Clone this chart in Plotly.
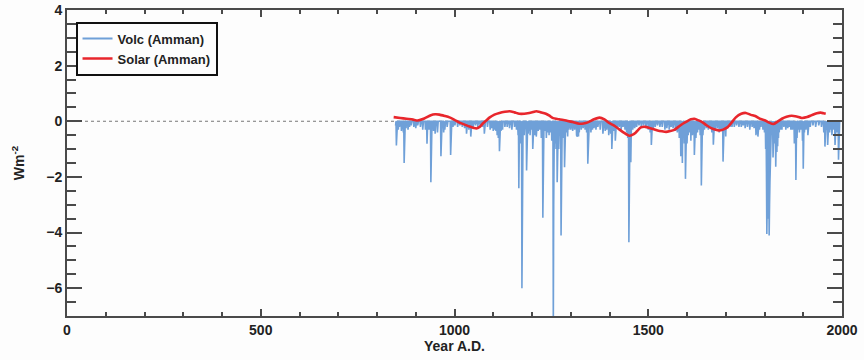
import plotly.graph_objects as go

# Volcanic forcing (Amman): years with a non-zero value, background is zero
volc_years = [
    848, 850, 851, 855, 858, 863, 868, 870, 871, 875, 880, 884, 888, 895, 900, 905,
    912, 918, 925, 929, 930, 934, 939, 940, 941, 946, 950, 951, 956, 965, 966, 972,
    975, 981, 990, 991, 996, 1001, 1008, 1014, 1020, 1026, 1031, 1032, 1037, 1042,
    1043, 1048, 1054, 1060, 1066, 1072, 1077, 1078, 1085, 1092, 1096, 1100, 1103,
    1107, 1110, 1113, 1116, 1117, 1120, 1124, 1130, 1136, 1142, 1148, 1155, 1160,
    1164, 1166, 1167, 1171, 1174, 1175, 1176, 1180, 1186, 1187, 1190, 1195, 1199,
    1202, 1203, 1207, 1211, 1212, 1216, 1220, 1224, 1228, 1229, 1230, 1233, 1237,
    1240, 1244, 1248, 1251, 1255, 1256, 1257, 1259, 1262, 1265, 1266, 1269, 1275,
    1276, 1277, 1280, 1284, 1285, 1288, 1292, 1295, 1300, 1305, 1310, 1315, 1316,
    1317, 1318, 1320, 1322, 1327, 1332, 1337, 1341, 1344, 1345, 1346, 1347, 1352,
    1356, 1360, 1365, 1370, 1376, 1383, 1384, 1389, 1393, 1398, 1403, 1406, 1407,
    1411, 1415, 1416, 1420, 1425, 1430, 1435, 1440, 1444, 1447, 1450, 1451, 1452,
    1455, 1456, 1460, 1465, 1470, 1476, 1482, 1488, 1494, 1500, 1505, 1508, 1509,
    1513, 1518, 1524, 1530, 1536, 1543, 1548, 1554, 1559, 1564, 1570, 1575, 1580,
    1584, 1586, 1588, 1590, 1593, 1596, 1597, 1600, 1603, 1606, 1610, 1614, 1619,
    1620, 1623, 1627, 1630, 1634, 1637, 1638, 1641, 1645, 1650, 1655, 1660, 1664,
    1668, 1669, 1673, 1678, 1683, 1688, 1693, 1694, 1698, 1700, 1705, 1711, 1716,
    1722, 1728, 1734, 1740, 1745, 1750, 1756, 1762, 1768, 1773, 1778, 1780, 1783,
    1784, 1787, 1791, 1796, 1800, 1803, 1805, 1806, 1807, 1808, 1809, 1810, 1811,
    1812, 1813, 1814, 1815, 1816, 1817, 1819, 1822, 1823, 1826, 1829, 1830, 1832,
    1834, 1836, 1838, 1841, 1845, 1850, 1855, 1860, 1864, 1868, 1872, 1877, 1879,
    1881, 1882, 1884, 1887, 1890, 1894, 1898, 1900, 1901, 1903, 1907, 1912, 1913,
    1918, 1925, 1932, 1940, 1947, 1953, 1956, 1957, 1960, 1963, 1964, 1968, 1970,
    1974, 1977, 1982, 1983, 1986, 1991, 1992,
]
volc_values = [
    -0.15, -0.87, -0.40, -0.30, -0.20, -0.35, -0.40, -1.50, -0.60, -0.25, -0.30, -0.20, -0.15, -0.20, -0.25, -0.15,
    -0.20, -0.30, -0.30, -0.81, -0.40, -0.30, -2.19, -0.90, -0.30, -0.35, -0.45, -0.20, -0.40, -1.26, -0.50, -0.40,
    -0.30, -0.20, -1.21, -0.40, -0.20, -0.15, -0.20, -0.15, -0.20, -0.25, -0.45, -0.30, -0.30, -0.55,
    -0.30, -0.20, -0.15, -0.20, -0.15, -0.20, -0.45, -0.20, -0.20, -0.30, -0.25, -0.35, -0.30,
    -0.35, -0.50, -0.60, -1.08, -0.60, -0.35, -0.30, -0.20, -0.20, -0.25, -0.30, -0.20, -0.30,
    -0.50, -2.41, -1.00, -0.80, -6.00, -2.50, -0.90, -0.50, -1.77, -0.70, -0.45, -0.50, -0.30,
    -1.00, -0.45, -0.50, -0.55, -0.30, -0.35, -0.30, -0.60, -3.47, -1.20, -0.60, -0.35, -0.60,
    -0.40, -0.50, -0.40, -0.70, -7.50, -3.00, -1.20, -0.80, -1.00, -2.19, -0.90, -1.00, -4.11,
    -1.50, -0.70, -0.60, -1.65, -0.60, -0.40, -0.55, -0.30, -0.30, -0.35, -0.30, -0.50, -0.55,
    -0.55, -0.50, -0.55, -0.40, -0.30, -0.25, -0.30, -0.40, -1.53, -0.80, -1.30, -0.50, -0.40,
    -0.30, -0.25, -0.30, -0.20, -0.30, -0.45, -0.30, -0.35, -0.30, -0.50, -0.45, -1.00, -0.50,
    -0.35, -0.70, -0.40, -0.25, -0.20, -0.30, -0.20, -0.30, -0.40, -0.60, -4.35, -1.50, -1.00,
    -1.47, -0.50, -0.30, -0.25, -0.20, -0.15, -0.20, -0.15, -0.20, -0.30, -0.40, -0.85, -0.40,
    -0.30, -0.20, -0.15, -0.20, -0.20, -0.30, -0.25, -0.30, -0.20, -0.25, -0.35, -0.40, -0.60,
    -1.26, -0.70, -1.50, -0.60, -0.80, -2.07, -0.90, -0.80, -0.50, -0.40, -0.70, -0.50, -1.21,
    -0.50, -0.60, -0.40, -0.30, -0.50, -2.31, -0.80, -0.50, -0.30, -0.25, -0.30, -0.20, -0.40,
    -0.84, -0.40, -0.30, -0.25, -0.40, -0.30, -1.45, -0.50, -0.30, -0.55, -0.25, -0.20, -0.20,
    -0.20, -0.15, -0.20, -0.20, -0.15, -0.25, -0.20, -0.30, -0.20, -0.25, -0.50, -0.45, -0.55,
    -0.40, -0.30, -0.20, -0.30, -0.40, -1.00, -1.80, -4.05, -3.00, -2.00, -3.50, -2.50, -1.80,
    -4.11, -3.00, -2.20, -1.50, -1.00, -0.70, -0.50, -1.30, -0.50, -0.80, -1.63, -0.70, -1.10,
    -0.90, -0.60, -0.40, -0.30, -0.30, -0.20, -0.30, -0.25, -0.20, -0.30, -0.30, -0.80, -0.40,
    -2.11, -1.00, -0.60, -0.30, -0.40, -0.30, -0.70, -1.71, -0.70, -0.40, -0.30, -0.50, -0.30,
    -0.20, -0.15, -0.20, -0.15, -0.20, -0.40, -0.91, -0.50, -0.30, -0.85, -0.50, -0.40, -0.30,
    -0.50, -0.30, -0.85, -0.50, -0.40, -1.38, -0.60,
]
volc_start, volc_end = 848, 2000

# Solar forcing (Amman), smoothed
solar_years = [
    843, 860, 876, 893, 905, 922, 939, 950, 961, 975, 987, 1000, 1013, 1026, 1039,
    1050, 1056, 1065, 1073, 1082, 1090, 1103, 1116, 1130, 1142, 1155, 1167, 1180,
    1193, 1203, 1211, 1223, 1236, 1245, 1253, 1270, 1288, 1305, 1322, 1333, 1344,
    1360, 1374, 1387, 1399, 1412, 1425, 1438, 1451, 1460, 1468, 1481, 1492, 1503,
    1514, 1524, 1535, 1546, 1557, 1567, 1578, 1589, 1600, 1610, 1619, 1630, 1640,
    1650, 1661, 1672, 1683, 1693, 1704, 1715, 1726, 1740, 1752, 1765, 1776, 1790,
    1802, 1812, 1823, 1833, 1845, 1857, 1870, 1883, 1896, 1910, 1922, 1935, 1945,
    1952, 1958,
]
solar_values = [
    0.15, 0.12, 0.09, 0.06, 0.03, 0.10, 0.22, 0.25, 0.24, 0.19, 0.14, 0.05, -0.05, -0.12, -0.19,
    -0.24, -0.26, -0.20, -0.08, 0.03, 0.13, 0.24, 0.30, 0.34, 0.36, 0.32, 0.27, 0.27,
    0.30, 0.33, 0.36, 0.32, 0.27, 0.20, 0.12, 0.07, 0.03, -0.03, -0.09, -0.08, -0.04,
    0.07, 0.13, 0.07, -0.06, -0.16, -0.29, -0.42, -0.52, -0.48, -0.40, -0.22, -0.20, -0.24,
    -0.29, -0.33, -0.36, -0.38, -0.35, -0.31, -0.20, -0.09, 0.00, 0.07, 0.09, 0.03, -0.04,
    -0.14, -0.24, -0.30, -0.33, -0.30, -0.22, -0.05, 0.14, 0.27, 0.30, 0.23, 0.19, 0.08,
    0.03, -0.05, -0.10, -0.02, 0.09, 0.16, 0.20, 0.17, 0.12, 0.15, 0.22, 0.29, 0.31,
    0.29, 0.27,
]

x_range = [0, 2000]
y_range = [-7, 4]

VOLC_COLOR = "#6fa0d8"
SOLAR_COLOR = "#e8262c"
AXIS_COLOR = "#4a4a4a"
TEXT_COLOR = "#222222"
FONT = "Liberation Sans, Arial, Helvetica, sans-serif"

# Annual volcanic series built from the event list
volc_x = list(range(volc_start, volc_end + 1))
volc_y = [0.0] * len(volc_x)
for yr, val in zip(volc_years, volc_values):
    volc_y[yr - volc_start] = val

fig = go.Figure()

# filled spikes (kept out of the legend so the legend shows a plain line key)
fig.add_trace(go.Scatter(
    x=volc_x, y=volc_y, mode="lines", name="Volc (Amman)", showlegend=False,
    legendgroup="volc",
    line=dict(color=VOLC_COLOR, width=1.6),
    fill="tozeroy", fillcolor=VOLC_COLOR,
))
# legend key for the volcanic series
fig.add_trace(go.Scatter(
    x=[None], y=[None], mode="lines", name="Volc (Amman)", legendgroup="volc",
    line=dict(color=VOLC_COLOR, width=2),
))
fig.add_trace(go.Scatter(
    x=solar_years, y=solar_values, mode="lines", name="Solar (Amman)",
    line=dict(color=SOLAR_COLOR, width=2.6, shape="spline", smoothing=0.6),
))

# dotted zero reference line across the full width
fig.add_shape(type="line", xref="paper", yref="y", x0=0, x1=1, y0=0, y1=0,
              line=dict(color="#777777", width=1.2, dash="dot"), layer="below")

tick_font = dict(family=FONT, size=14, color=TEXT_COLOR, weight="bold")
title_font = dict(family=FONT, size=14, color=TEXT_COLOR, weight="bold")

fig.update_layout(
    width=864, height=360,
    margin=dict(l=67, r=22, t=10, b=44),
    paper_bgcolor="#fdfdfd", plot_bgcolor="#fdfdfd",
    font=dict(family=FONT, color=TEXT_COLOR),
    showlegend=True,
    legend=dict(
        x=0.011, y=0.962, xanchor="left", yanchor="top",
        bgcolor="#fdfdfd", bordercolor="#111111", borderwidth=2,
        font=dict(family=FONT, size=13, color=TEXT_COLOR, weight="bold"),
        tracegroupgap=0, itemwidth=30,
    ),
    xaxis=dict(
        range=x_range, tickmode="linear", tick0=0, dtick=500, automargin=False,
        ticks="inside", ticklen=7, tickwidth=2, tickcolor=AXIS_COLOR,
        minor=dict(dtick=100, ticks="inside", ticklen=4, tickwidth=1.5, tickcolor=AXIS_COLOR),
        showline=True, linecolor=AXIS_COLOR, linewidth=2, mirror="ticks",
        showgrid=False, zeroline=False, tickfont=tick_font,
        title=dict(text="Year A.D.", font=title_font, standoff=4),
    ),
    yaxis=dict(
        range=y_range, tickmode="linear", tick0=0, dtick=2, automargin=False,
        ticks="inside", ticklen=15, tickwidth=2, tickcolor=AXIS_COLOR,
        minor=dict(dtick=0.5, ticks="inside", ticklen=9, tickwidth=1.5, tickcolor=AXIS_COLOR),
        showline=True, linecolor=AXIS_COLOR, linewidth=2, mirror="ticks",
        showgrid=False, zeroline=False, tickfont=tick_font,
        title=dict(text="Wm<sup>-2</sup>", font=title_font, standoff=18),
    ),
)

fig.write_html("out.html")
